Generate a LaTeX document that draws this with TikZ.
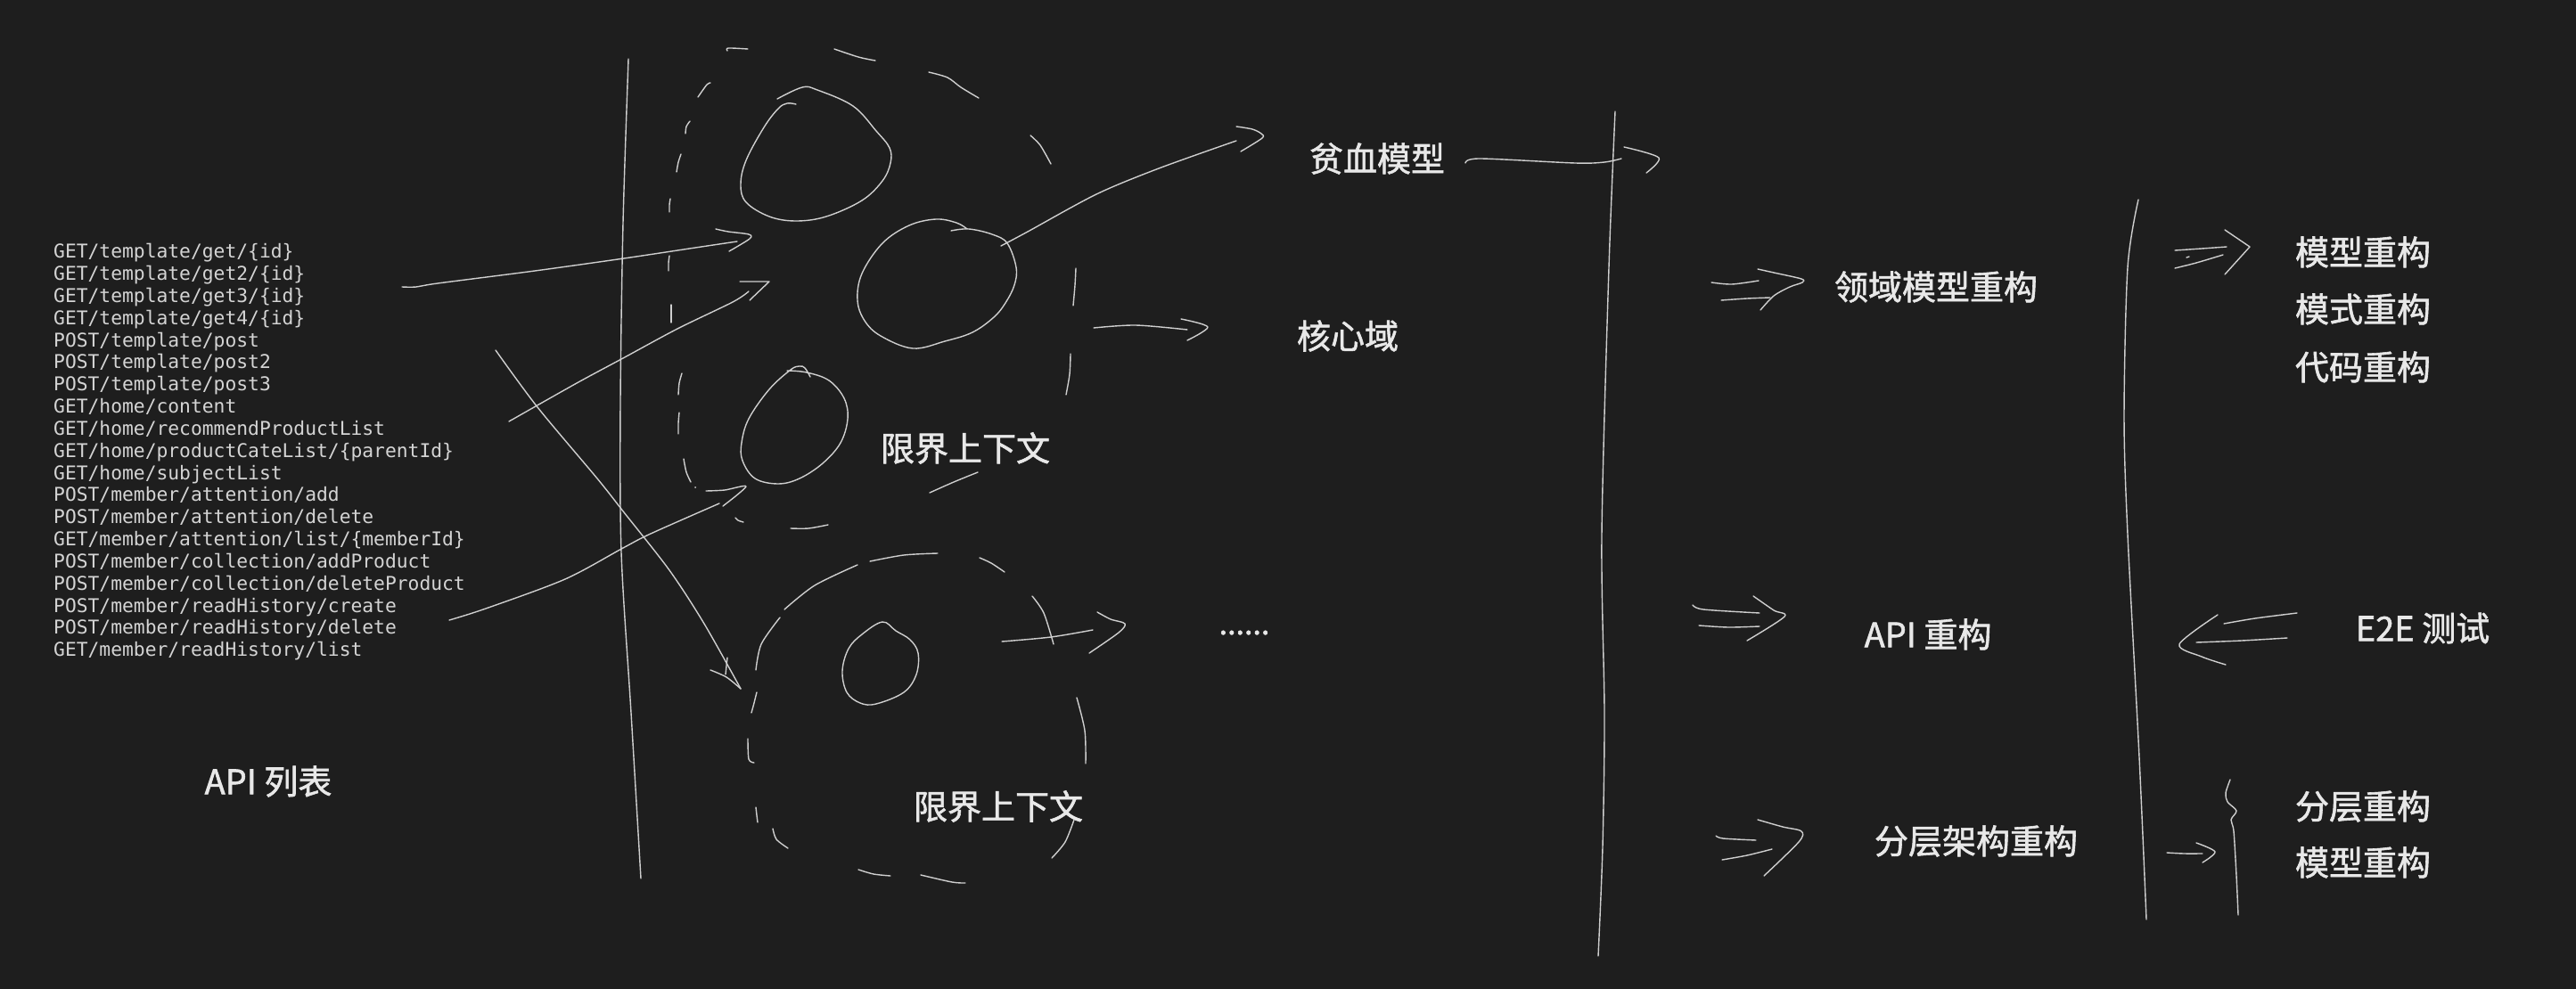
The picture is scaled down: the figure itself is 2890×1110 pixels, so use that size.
\documentclass[tikz,border=0pt]{standalone}
\usepackage{fontspec}
\newfontfamily\cjk[FakeBold=1.5]{Noto Sans CJK SC}
\newfontfamily\apimono{DejaVu Sans Mono}
\definecolor{bgc}{HTML}{1E1E1E}
\definecolor{txtc}{HTML}{E8E8E8}
\definecolor{monoc}{HTML}{D4D4D4}
\definecolor{inkc}{HTML}{CFCFCF}
\tikzset{
  ink/.style={draw=inkc, line width=1.4pt, line cap=round, line join=round},
  lbl/.style={text=txtc, inner sep=0pt, font=\cjk\fontsize{38pt}{40pt}\selectfont},
  apiline/.style={text=monoc, inner sep=0pt, anchor=west, text height=15.5pt, text depth=0pt, font=\apimono\fontsize{21.3pt}{24pt}\selectfont},
}
\begin{document}
\begin{tikzpicture}[x=1pt,y=-1pt]
\fill[bgc] (0,0) rectangle (2890,1110);
\useasboundingbox (0,0) rectangle (2890,1110);

% ---------- API list ----------
\foreach \t [count=\i from 0] in {
 GET/template/get/\{id\},
 GET/template/get2/\{id\},
 GET/template/get3/\{id\},
 GET/template/get4/\{id\},
 POST/template/post,
 POST/template/post2,
 POST/template/post3,
 GET/home/content,
 GET/home/recommendProductList,
 GET/home/productCateList/\{parentId\},
 GET/home/subjectList,
 POST/member/attention/add,
 POST/member/attention/delete,
 GET/member/attention/list/\{memberId\},
 POST/member/collection/addProduct,
 POST/member/collection/deleteProduct,
 POST/member/readHistory/create,
 POST/member/readHistory/delete,
 GET/member/readHistory/list}
 \node[apiline] (api\i) at (60,{282+24.83*\i}) {\t};

% ---------- labels ----------
\node[lbl] (apil) at (301,877) {API 列表};
\node[lbl] (pxmx) at (1545,178) {贫血模型};
\node[lbl] (hxy) at (1512,377) {核心域};
\node[lbl] (xj1) at (1083,503) {限界上下文};
\node[lbl] (xj2) at (1120,905) {限界上下文};
\node[lbl, anchor=base, font=\cjk\fontsize{34pt}{36pt}\selectfont] (dots) at (1396,712) {......};
\node[lbl] (lyr) at (2172,322) {领域模型重构};
\node[lbl] (mx1) at (2651,283) {模型重构};
\node[lbl] (msr) at (2651,347) {模式重构};
\node[lbl] (dmr) at (2651,412) {代码重构};
\node[lbl] (apir) at (2163,712) {API 重构};
\node[lbl] (e2e) at (2718,705) {E2E 测试};
\node[lbl] (fcjg) at (2217,944) {分层架构重构};
\node[lbl] (fcr) at (2651,905) {分层重构};
\node[lbl] (mx2) at (2651,968) {模型重构};

% ---------- vertical separators ----------
\draw[ink] plot[smooth] coordinates {(705,66) (699,250) (696,450) (697,620) (708,800) (719,986)};
\draw[ink] plot[smooth] coordinates {(1812,125) (1805,300) (1797,600) (1800,800) (1798,950) (1793,1073)};
\draw[ink] plot[smooth] coordinates {(2399,224) (2387,300) (2383,467) (2387,600) (2400,850) (2408,1032)};
% small brace
\draw[ink] plot[smooth] coordinates {(2502,875) (2497,890) (2499,900) (2509,910) (2503,920) (2506,933) (2509,983) (2511,1027)};

% ---------- blobs (entities) ----------
\draw[ink] plot[smooth, tension=0.6] coordinates {(872,111) (900,98) (917,101) (957,119) (983,147) (998,166) (999,183) (990,203) (967,225) (927,243) (893,248) (863,243) (837,227) (831,207) (837,180) (857,143) (873,122) (883,116) (893,117)};
\draw[ink] plot[smooth, tension=0.6] coordinates {(1085,257) (1073,250) (1050,246) (1020,253) (990,273) (967,307) (962,337) (970,360) (988,377) (1024,391) (1060,383) (1091,373) (1115,356) (1128,340) (1138,320) (1140,300) (1130,273) (1113,263) (1087,257) (1067,259)};
\draw[ink] plot[smooth, tension=0.6] coordinates {(909,423) (903,413) (897,411) (887,415) (863,437) (840,470) (832,497) (833,517) (847,537) (873,543) (897,537) (923,520) (943,497) (951,470) (947,447) (930,427) (905,418) (883,416)};
\draw[ink] plot[smooth cycle, tension=0.6] coordinates {(990,698) (1005,708) (1021,718) (1030,733) (1028,757) (1014,777) (983,790) (965,789) (950,777) (945,753) (952,728) (967,712)};

% ---------- dashed bounded context 1 ----------
\foreach \p in {
 {(816,57) (817,54) (839,55)},
 {(936,55) (963,64) (982,68)},
 {(1042,81) (1063,87) (1078,98) (1098,110)},
 {(1156,152) (1167,163) (1179,184)},
 {(1207,301) (1206,320) (1204,343)},
 {(1201,397) (1200,420) (1196,443)},
 {(1097,530) (1070,541) (1043,553)},
 {(929,589) (907,593) (887,593)},
 {(834,586) (828,584) (825,581)},
 {(775,541) (770,530) (767,515)},
 {(762,463) (761,475) (761,487)},
 {(765,419) (762,430) (761,443)},
 {(753,342) (753,352) (753,362)},
 {(751,287) (750,295) (750,304)},
 {(752,223) (751,230) (751,238)},
 {(764,173) (761,182) (759,193)},
 {(774,136) (770,142) (769,150)},
 {(797,93) (793,95) (783,109)}}
 \draw[ink] plot[smooth] coordinates \p;
\fill[inkc] (780,547) circle (1pt);

% ---------- dashed bounded context 2 ----------
\foreach \p in {
 {(976,630) (1014,623) (1052,621)},
 {(1099,626) (1112,632) (1127,642)},
 {(962,634) (914,657) (880,684)},
 {(875,693) (854,723) (848,752)},
 {(849,777) (846,789) (843,800)},
 {(839,829) (840,852) (846,856)},
 {(848,906) (849,915) (850,923)},
 {(867,930) (871,942) (884,952)},
 {(963,976) (980,981) (999,983)},
 {(1033,982) (1068,990) (1083,991)},
 {(1180,963) (1195,945) (1205,920)},
 {(1208,783) (1217,820) (1218,857)},
 {(1158,669) (1171,688) (1182,723)}}
 \draw[ink] plot[smooth] coordinates \p;

% ---------- arrows from API list ----------
\draw[ink] plot[smooth] coordinates {(451,322) (467,322) (491,318) (600,304) (700,290) (780,278) (827,271)};
\draw[ink] plot[smooth] coordinates {(803,257) (817,260) (840,263) (841,268) (818,282)};
\draw[ink] plot[smooth] coordinates {(571,473) (647,430) (699,402) (760,369) (822,339) (840,327)};
\draw[ink] (830,316) -- (863,316) -- (841,337);
\draw[ink] plot[smooth] coordinates {(504,696) (545,683) (634,650) (699,615) (730,599) (807,565)};
\draw[ink] plot[smooth] coordinates {(792,551) (813,550) (837,546) (811,568)};
\draw[ink] plot[smooth] coordinates {(556,393) (603,457) (670,537) (700,575) (751,640) (790,700) (831,773)};
\draw[ink] (816,738) -- (814,757);
\draw[ink] plot[smooth] coordinates {(797,752) (815,760) (831,773)};

% ---------- arrows out of contexts ----------
\draw[ink] plot[smooth] coordinates {(1123,276) (1153,260) (1230,218) (1300,189) (1387,158)};
\draw[ink] plot[smooth] coordinates {(1387,142) (1405,145) (1415,150) (1416,155) (1392,170)};
\draw[ink] plot[smooth] coordinates {(1227,368) (1274,365) (1332,370)};
\draw[ink] plot[smooth] coordinates {(1325,358) (1355,367) (1332,382)};
\draw[ink] plot[smooth] coordinates {(1124,720) (1179,715) (1226,707)};
\draw[ink] plot[smooth] coordinates {(1231,687) (1246,695) (1262,700) (1255,710) (1222,733)};
\draw[ink] plot[smooth] coordinates {(1644,183) (1660,178) (1767,183) (1800,182) (1819,178)};
\draw[ink] plot[smooth] coordinates {(1822,165) (1861,177) (1847,194)};

% ---------- arrows in refactoring column ----------
\draw[ink] plot[smooth] coordinates {(1920,317) (1943,319) (1973,315)};
\draw[ink] plot[smooth] coordinates {(1931,337) (1960,335) (1986,334)};
\draw[ink] plot[smooth] coordinates {(1972,302) (1990,306) (2021,313) (2022,317) (2008,322) (1990,332) (1975,348)};
\draw[ink] plot[smooth] coordinates {(1899,679) (1911,684) (1974,688)};
\draw[ink] plot[smooth] coordinates {(1906,702) (1939,704) (1974,703)};
\draw[ink] plot[smooth] coordinates {(1967,669) (1990,685) (2002,692) (1960,719)};
\draw[ink] plot[smooth] coordinates {(1925,938) (1933,941) (1970,943)};
\draw[ink] plot[smooth] coordinates {(1932,965) (1960,960) (1988,953)};
\draw[ink] plot[smooth] coordinates {(1972,920) (2000,928) (2021,933) (2018,945) (1979,983)};

% ---------- right column arrows ----------
\draw[ink] plot[smooth] coordinates {(2440,281) (2470,279) (2498,277)};
\draw[ink] plot[smooth] coordinates {(2440,301) (2464,295) (2494,286)};
\draw[ink] (2453,289) -- (2456,288);
\draw[ink] (2496,258) -- (2524,277) -- (2496,308);
\draw[ink] plot[smooth] coordinates {(2577,688) (2530,694) (2495,700)};
\draw[ink] plot[smooth] coordinates {(2566,716) (2515,719) (2464,721)};
\draw[ink] plot[smooth] coordinates {(2488,690) (2445,723) (2470,737) (2497,746)};
\draw[ink] plot[smooth] coordinates {(2431,957) (2450,958) (2471,958)};
\draw[ink] plot[smooth] coordinates {(2464,946) (2485,956) (2471,968)};
\end{tikzpicture}
\end{document}
